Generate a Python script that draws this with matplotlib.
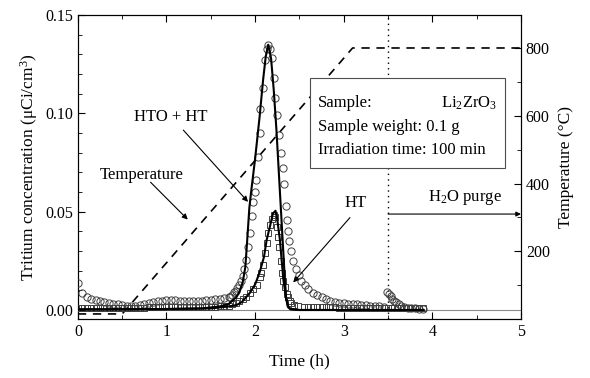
import numpy as np
import matplotlib
matplotlib.use("Agg")
import matplotlib.pyplot as plt
from matplotlib.patches import Rectangle
from matplotlib.ticker import MultipleLocator

plt.rcParams['font.family'] = ['Liberation Serif', 'DejaVu Serif']
plt.rcParams['mathtext.fontset'] = 'custom'
plt.rcParams['mathtext.rm'] = 'Liberation Serif'
plt.rcParams['mathtext.it'] = 'Liberation Serif:italic'

# HTO + HT measured (circles)
hto_t = [0.00, 0.05, 0.10, 0.15, 0.20, 0.25, 0.30, 0.35, 0.40, 0.45, 0.50, 0.55,
         0.60, 0.65, 0.70, 0.75, 0.80, 0.85, 0.90, 0.95, 1.00, 1.05, 1.10, 1.15,
         1.20, 1.25, 1.30, 1.35, 1.40, 1.45, 1.50, 1.55, 1.60, 1.65, 1.70,
         1.72, 1.74, 1.76, 1.78, 1.80, 1.82, 1.84, 1.86, 1.88, 1.90, 1.92, 1.94,
         1.96, 1.98, 2.00, 2.01, 2.03, 2.05, 2.06, 2.09, 2.11, 2.13, 2.15, 2.17,
         2.19, 2.21, 2.23, 2.25, 2.27, 2.29, 2.31, 2.33, 2.35, 2.36, 2.37, 2.38,
         2.40, 2.43, 2.46, 2.49, 2.52, 2.56, 2.60, 2.65, 2.70, 2.75, 2.80, 2.85,
         2.90, 2.95, 3.00, 3.05, 3.10, 3.15, 3.20, 3.25, 3.30, 3.35, 3.40, 3.45,
         3.49, 3.51, 3.53, 3.55, 3.57, 3.59, 3.62, 3.65, 3.68, 3.72, 3.76, 3.80,
         3.85, 3.89]
hto_c = [0.0135, 0.0085, 0.0068, 0.0058, 0.0052, 0.0047, 0.0042, 0.0037, 0.0032,
         0.0028, 0.0024, 0.0021, 0.0020, 0.0021, 0.0024, 0.0030, 0.0036, 0.0041,
         0.0045, 0.0048, 0.0050, 0.0050, 0.0049, 0.0048, 0.0047, 0.0047, 0.0047,
         0.0047, 0.0048, 0.0049, 0.0051, 0.0054, 0.0058, 0.0063, 0.0066,
         0.0068, 0.0078, 0.0090, 0.0098, 0.0110, 0.0128, 0.0150, 0.0175, 0.0210,
         0.0255, 0.0320, 0.0390, 0.0480, 0.0550, 0.0600, 0.0660, 0.0780, 0.0900,
         0.1020, 0.1130, 0.1270, 0.1330, 0.1350, 0.1330, 0.1280, 0.1180, 0.1080,
         0.0990, 0.0890, 0.0800, 0.0720, 0.0640, 0.0530, 0.0460, 0.0400, 0.0350,
         0.0300, 0.0250, 0.0210, 0.0180, 0.0150, 0.0125, 0.0105, 0.0088, 0.0075,
         0.0065, 0.0055, 0.0045, 0.0041, 0.0038, 0.0035, 0.0032, 0.0030, 0.0028,
         0.0026, 0.0024, 0.0022, 0.0020, 0.0019, 0.0017,
         0.0093, 0.0082, 0.0070, 0.0058, 0.0048, 0.0042, 0.0033, 0.0022, 0.0016,
         0.0012, 0.0010, 0.0008, 0.0006, 0.0005]

# HT measured (squares)
ht_t = [0.00, 0.05, 0.10, 0.15, 0.20, 0.25, 0.30, 0.35, 0.40, 0.45, 0.50, 0.55,
        0.60, 0.65, 0.70, 0.75, 0.80, 0.85, 0.90, 0.95, 1.00, 1.05, 1.10, 1.15,
        1.20, 1.25, 1.30, 1.35, 1.40, 1.45, 1.50, 1.55, 1.60, 1.65, 1.70,
        1.74, 1.78, 1.82, 1.86, 1.90, 1.94, 1.98, 2.02, 2.05, 2.07, 2.09, 2.11,
        2.13, 2.15, 2.17, 2.19, 2.21, 2.23, 2.25, 2.26, 2.27, 2.29, 2.30, 2.32,
        2.34, 2.36, 2.37, 2.39, 2.41, 2.44, 2.48, 2.55, 2.60, 2.65, 2.70, 2.75,
        2.80, 2.85, 2.90, 2.95, 3.00, 3.05, 3.10, 3.15, 3.20, 3.25, 3.30, 3.35,
        3.40, 3.45, 3.50, 3.55, 3.60, 3.65, 3.70, 3.75, 3.80, 3.85, 3.90]
ht_c = [0.0008, 0.0009, 0.0010, 0.0010, 0.0010, 0.0010, 0.0010, 0.0010, 0.0011,
        0.0011, 0.0011, 0.0012, 0.0012, 0.0012, 0.0012, 0.0012, 0.0013, 0.0013,
        0.0013, 0.0013, 0.0013, 0.0013, 0.0013, 0.0014, 0.0014, 0.0014, 0.0014,
        0.0014, 0.0014, 0.0015, 0.0015, 0.0016, 0.0018, 0.0020, 0.0022,
        0.0028, 0.0036, 0.0045, 0.0055, 0.0068, 0.0085, 0.0105, 0.0125, 0.0170,
        0.0190, 0.0230, 0.0290, 0.0340, 0.0390, 0.0430, 0.0465, 0.0485, 0.0475,
        0.0420, 0.0370, 0.0320, 0.0250, 0.0190, 0.0150, 0.0117, 0.0080, 0.0066,
        0.0045, 0.0035, 0.0025, 0.0018, 0.0015, 0.0014, 0.0014, 0.0014, 0.0013,
        0.0013, 0.0013, 0.0013, 0.0012, 0.0012, 0.0012, 0.0012, 0.0012, 0.0011,
        0.0011, 0.0011, 0.0011, 0.0011, 0.0010, 0.0010, 0.0010, 0.0009, 0.0009,
        0.0009, 0.0009, 0.0008, 0.0008, 0.0008]

# fitted curves (solid lines)
fit_hto_t = [0.00, 0.50, 1.00, 1.40, 1.60, 1.70, 1.79, 1.82, 1.86, 1.89, 1.91,
             1.935, 1.96, 2.00, 2.05, 2.09, 2.12, 2.148, 2.18, 2.21, 2.24, 2.27,
             2.30, 2.33, 2.35, 2.37, 2.40, 2.50, 3.90]
fit_hto_c = [0.0003, 0.0003, 0.0005, 0.0008, 0.0018, 0.0030, 0.0066, 0.0090,
             0.0140, 0.0220, 0.0350, 0.0520, 0.0620, 0.0770, 0.0980, 0.1170,
             0.1290, 0.1350, 0.1280, 0.1120, 0.0920, 0.0680, 0.0440, 0.0200,
             0.0060, 0.0020, 0.0005, 0.0000, 0.0000]
fit_ht_t = [0.00, 1.00, 1.50, 1.70, 1.79, 1.85, 1.94, 2.00, 2.05, 2.10, 2.13,
            2.17, 2.20, 2.23, 2.25, 2.28, 2.30, 2.32, 2.35, 2.37, 2.40, 2.50, 3.90]
fit_ht_c = [0.0003, 0.0005, 0.0008, 0.0018, 0.0025, 0.0040, 0.0087, 0.0130,
            0.0190, 0.0270, 0.0356, 0.0430, 0.0490, 0.0505, 0.0460, 0.0356,
            0.0250, 0.0150, 0.0060, 0.0015, 0.0003, 0.0000, 0.0000]

# temperature programme
temp_t = [0.0, 0.5, 3.1, 5.0]
temp_c = [15, 15, 800, 800]

fig = plt.figure(figsize=(5.9, 3.78), dpi=100)
ax = fig.add_axes([0.132, 0.156, 0.751, 0.804])
ax2 = ax.twinx()

ax.axhline(0, color='0.55', lw=0.8, zorder=1)
ax.plot(hto_t, hto_c, 'o', mfc='none', mec='0.25', mew=0.7, ms=5.2, zorder=3)
ax.plot(ht_t, ht_c, 's', mfc='none', mec='0.25', mew=0.7, ms=4, zorder=3)
ax.plot(fit_hto_t, fit_hto_c, '-', color='black', lw=1.5, zorder=4)
ax.plot(fit_ht_t, fit_ht_c, '-', color='black', lw=1.5, zorder=4)
ax.axvline(3.5, color='black', lw=1, ls=(0, (1, 3)), zorder=2)

ax2.plot(temp_t, temp_c, color='black', lw=1.2, ls=(0, (5, 4)))

ax.set_xlim(0, 5)
ax.set_ylim(-0.0046, 0.15)
ax2.set_ylim(0, 897)

ax.xaxis.set_major_locator(MultipleLocator(1))
ax.xaxis.set_minor_locator(MultipleLocator(0.5))
ax.yaxis.set_major_locator(MultipleLocator(0.05))
ax.yaxis.set_minor_locator(MultipleLocator(0.01))
ax.yaxis.set_major_formatter(plt.FormatStrFormatter('%.2f'))
ax2.yaxis.set_major_locator(MultipleLocator(200))
ax2.yaxis.set_minor_locator(MultipleLocator(100))
ax2.set_yticks([200, 400, 600, 800])

ax.tick_params(which='both', direction='in', top=True, right=False, labelsize=11.5)
ax.tick_params(which='major', length=5)
ax.tick_params(which='minor', length=3)
ax2.tick_params(which='both', direction='in', labelsize=11.5)
ax2.tick_params(which='major', length=5)
ax2.tick_params(which='minor', length=3)

ax.set_xlabel('Time (h)', fontsize=12.5, labelpad=10)
ax.set_ylabel('Tritium concentration (μCi/cm$^3$)', fontsize=12.5, labelpad=4)
ax2.set_ylabel('Temperature (°C)', fontsize=12.5, labelpad=6)

ax2.set_zorder(ax.get_zorder() - 1)
ax.patch.set_visible(False)

# annotations
arrow = dict(arrowstyle='-|>', lw=0.8, color='black', mutation_scale=8,
             shrinkA=0, shrinkB=0)
ax.text(1.05, 0.098, 'HTO + HT', fontsize=12, ha='center', va='center')
ax.annotate('', xy=(1.92, 0.055), xytext=(1.19, 0.0915), arrowprops=arrow)
ax.text(0.72, 0.0685, 'Temperature', fontsize=12, ha='center', va='center')
ax.annotate('', xy=(1.24, 0.046), xytext=(0.82, 0.065), arrowprops=arrow)
ax.text(3.13, 0.0545, 'HT', fontsize=12, ha='center', va='center')
ax.annotate('', xy=(2.43, 0.014), xytext=(3.07, 0.047), arrowprops=arrow)
ax.annotate('', xy=(5.0, 0.0488), xytext=(3.5, 0.0488),
            arrowprops=dict(arrow, mutation_scale=7))
ax.text(4.37, 0.057, 'H$_2$O purge', fontsize=12, ha='center', va='center')

# info box
ax.add_patch(Rectangle((2.62, 0.0722), 2.2, 0.0458, facecolor='white',
                       edgecolor='0.3', lw=0.8, zorder=6))
ax.text(2.71, 0.1053, 'Sample:', fontsize=12, va='center', zorder=7)
ax.text(4.73, 0.1053, 'Li$_2$ZrO$_3$', fontsize=12, va='center', ha='right', zorder=7)
ax.text(2.71, 0.0931, 'Sample weight: 0.1 g', fontsize=12, va='center', zorder=7)
ax.text(2.71, 0.0812, 'Irradiation time: 100 min', fontsize=12, va='center', zorder=7)

fig.savefig('out.png', dpi=100)
